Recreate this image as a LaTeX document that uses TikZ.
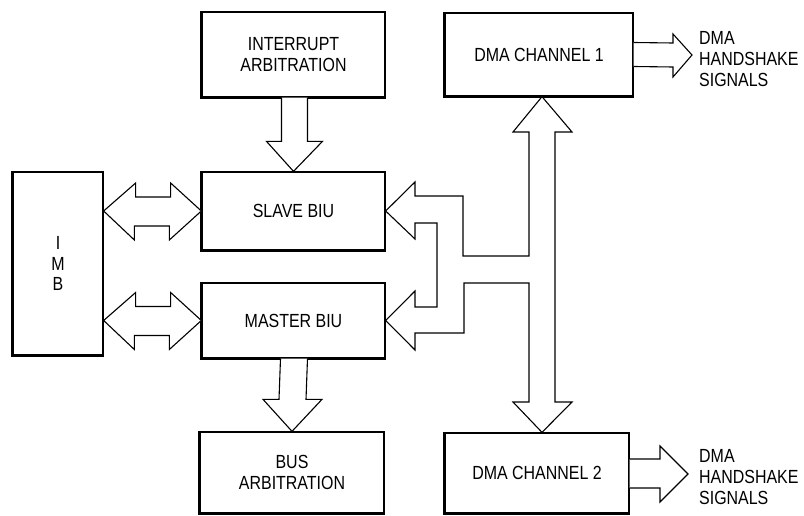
\documentclass[tikz,border=0pt]{standalone}
\usepackage{fontspec}
\setmainfont{Liberation Sans}[FakeStretch=0.84]
\usetikzlibrary{calc}
\newcommand\boxfont{\fontsize{19}{20.5}\selectfont}
\tikzset{
  box/.style={draw, line width=1.3pt, inner sep=0pt, align=center, font=\boxfont},
  blk/.style={draw, line width=1.1pt, line join=miter, fill=white},
  lbl/.style={inner sep=0pt, align=left, anchor=west, font=\fontsize{19}{21}\selectfont},
}
\newcommand\shadowedge[1]{\draw[line width=2.8pt, line join=miter] (#1.north west) -- (#1.south west) -- (#1.south east);}
\begin{document}
\begin{tikzpicture}[x=1pt,y=-1pt]
\useasboundingbox (0,0) rectangle (804,516);
% boxes
\node[box, minimum width=90pt, minimum height=183pt] (imb) at (58,263.5) {I\\M\\B};
\node[box, minimum width=183pt, minimum height=85pt] (int) at (293.5,54.5) {INTERRUPT\\ARBITRATION};
\node[box, minimum width=183pt, minimum height=78pt] (slave) at (293.5,211) {SLAVE BIU};
\node[box, minimum width=183pt, minimum height=75pt] (master) at (293.5,320.5) {MASTER BIU};
\node[box, minimum width=184pt, minimum height=81pt] (busarb) at (292,472.5) {BUS\\ARBITRATION};
\node[box, minimum width=188pt, minimum height=83pt] (dma1) at (539,54.5) {DMA CHANNEL 1};
\node[box, minimum width=184pt, minimum height=80pt] (dma2) at (537,473) {DMA CHANNEL 2};
\foreach \n in {imb,int,slave,master,busarb,dma1,dma2} {\shadowedge{\n}}
% interrupt -> slave
\draw[blk] ($(int.south)+(-12,0)$) -- ($(slave.north)+(-12,-30)$) -- ($(slave.north)+(-27,-30)$)
  -- (slave.north) -- ($(slave.north)+(29,-30)$) -- ($(slave.north)+(14,-30)$) -- ($(int.south)+(14,0)$);
% master -> bus arbitration
\draw[blk] ($(master.south)+(-13,0)$) -- ($(busarb.north)+(-13,-32)$) -- ($(busarb.north)+(-29,-32)$)
  -- (busarb.north) -- ($(busarb.north)+(30,-32)$) -- ($(busarb.north)+(14,-32)$) -- ($(master.south)+(14,0)$);
% IMB <-> slave
\draw[blk] ($(imb.east|-slave.west)$) -- ++(32,-28) -- ++(0,14) -- ++(35,0) -- ++(0,-14)
  -- (slave.west) -- ++(-32,29) -- ++(0,-14) -- ++(-35,0) -- ++(0,14) -- cycle;
% IMB <-> master
\draw[blk] ($(imb.east|-master.west)$) -- ++(32,-28) -- ++(0,14) -- ++(35,0) -- ++(0,-14)
  -- (master.west) -- ++(-32,29) -- ++(0,-14) -- ++(-35,0) -- ++(0,14) -- cycle;
% DMA bus
\coordinate (bx) at (542,0);
\draw[blk] (529,256) -- (529,132) -- (513,132) -- (dma1.south-|bx) -- (572,132) -- (555,132)
  -- (555,402) -- (572,402) -- (dma2.north-|bx) -- (513,402) -- (529,402) -- (529,283)
  -- (464,283) -- (464,333) -- (415,333) -- (415,350) -- (master.east) -- (415,291) -- (415,307)
  -- (437,307) -- (437,223) -- (415,223) -- (415,239) -- (slave.east) -- (415,182) -- (415,196)
  -- (463,196) -- (463,256) -- cycle;
% handshake arrows
\coordinate (h1) at (692,55);
\draw[blk] ($(dma1.east)+(0,-12)$) -- (673,43) -- (673,34) -- (h1) -- (673,77) -- (673,67) -- ($(dma1.east)+(0,12)$);
\coordinate (h2) at (688,474);
\draw[blk] ($(dma2.east)+(0,-14)$) -- (660,459) -- (660,446) -- (h2) -- (660,502) -- (660,488) -- ($(dma2.east)+(0,15)$);
\node[lbl] (t1) at (699,59) {DMA\\HANDSHAKE\\SIGNALS};
\node[lbl] (t2) at (699,477) {DMA\\HANDSHAKE\\SIGNALS};
\end{tikzpicture}
\end{document}
